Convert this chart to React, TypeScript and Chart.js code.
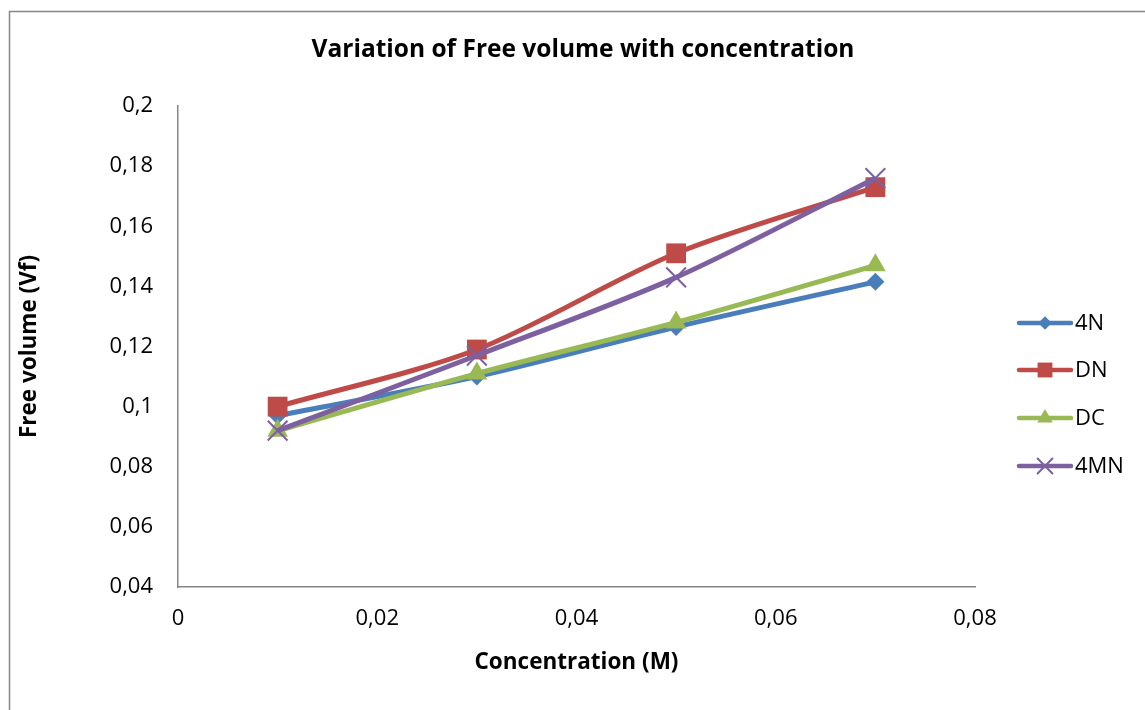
import React, { useEffect, useRef } from "react";
import { Chart, registerables } from "chart.js";

Chart.register(...registerables);

const xValues = [0.01, 0.03, 0.05, 0.07];
const seriesNames = ["4N", "DN", "DC", "4MN"];
const s4N = [0.097, 0.110, 0.1265, 0.1415];
const sDN = [0.100, 0.119, 0.151, 0.173];
const sDC = [0.092, 0.111, 0.128, 0.147];
const s4MN = [0.092, 0.117, 0.143, 0.176];
const seriesColors = ["#4A7EBB", "#BE4B48", "#98B954", "#7D60A0"];
const pointStyles = ["rectRot", "rect", "triangle", "crossRot"];
const pointRadii = [9, 14, 12, 14];
const chartTitle = "Variation of Free volume with concentration";
const FONT = "'Open Sans', 'Liberation Sans', sans-serif";

const fmt = (v: number) => {
  const r = Math.round(v * 100) / 100;
  return String(r).replace(".", ",");
};

function drawMarker(ctx: CanvasRenderingContext2D, style: string, x: number, y: number, r: number, color: string) {
  ctx.save();
  ctx.fillStyle = color;
  ctx.strokeStyle = color;
  ctx.beginPath();
  if (style === "rectRot") {
    ctx.moveTo(x, y - r);
    ctx.lineTo(x + r, y);
    ctx.lineTo(x, y + r);
    ctx.lineTo(x - r, y);
    ctx.closePath();
    ctx.fill();
  } else if (style === "rect") {
    const s = Math.SQRT1_2 * r;
    ctx.rect(x - s, y - s, 2 * s, 2 * s);
    ctx.fill();
  } else if (style === "triangle") {
    ctx.moveTo(x, y - r);
    ctx.lineTo(x + r * 0.866, y + r * 0.5);
    ctx.lineTo(x - r * 0.866, y + r * 0.5);
    ctx.closePath();
    ctx.fill();
  } else {
    const o = Math.SQRT1_2 * r;
    ctx.lineWidth = 2;
    ctx.moveTo(x - o, y - o);
    ctx.lineTo(x + o, y + o);
    ctx.moveTo(x + o, y - o);
    ctx.lineTo(x - o, y + o);
    ctx.stroke();
  }
  ctx.restore();
}

const framePlugin = {
  id: "frameAndLegend",
  afterDraw(chart: any) {
    const ctx: CanvasRenderingContext2D = chart.ctx;
    ctx.save();
    ctx.strokeStyle = "#868686";
    ctx.lineWidth = 1.5;
    ctx.beginPath();
    ctx.moveTo(9.5, 800);
    ctx.lineTo(9.5, 11.5);
    ctx.lineTo(1200, 11.5);
    ctx.stroke();
    // title
    ctx.fillStyle = "#000";
    ctx.font = `bold 24.5px ${FONT}`;
    ctx.textAlign = "center";
    ctx.textBaseline = "middle";
    ctx.fillText(chartTitle, 583, 50);
    // legend
    const legendY = [323, 370, 418, 466];
    seriesNames.forEach((name, i) => {
      const y = legendY[i];
      ctx.strokeStyle = seriesColors[i];
      ctx.lineWidth = 4.5;
      ctx.lineCap = "round";
      ctx.beginPath();
      ctx.moveTo(1019, y);
      ctx.lineTo(1071, y);
      ctx.stroke();
      drawMarker(ctx, pointStyles[i], 1045, y, pointRadii[i] * 0.75, seriesColors[i]);
      ctx.fillStyle = "#000";
      ctx.font = `22px ${FONT}`;
      ctx.textBaseline = "middle";
      ctx.textAlign = "left";
      ctx.fillText(name, 1075, y + 1);
    });
    ctx.restore();
  },
};

export default function App() {
  const ref = useRef<HTMLCanvasElement>(null);
  useEffect(() => {
    if (!ref.current) return;
    const all = [s4N, sDN, sDC, s4MN];
    const chart = new Chart(ref.current, {
      type: "line",
      data: {
        datasets: all.map((vals, i) => ({
          label: seriesNames[i],
          data: xValues.map((x, j) => ({ x, y: vals[j] })),
          borderColor: seriesColors[i],
          backgroundColor: seriesColors[i],
          borderWidth: 5,
          pointStyle: pointStyles[i] as any,
          pointRadius: pointRadii[i],
          pointBorderWidth: i === 3 ? 2 : 0,
          pointBorderColor: seriesColors[i],
          pointBackgroundColor: seriesColors[i],
          tension: 0.3,
          order: 4 - i,
        })),
      },
      options: {
        animation: false,
        responsive: false,
        layout: { padding: { left: 0, right: 170, top: 106, bottom: 0 } },
        plugins: {
          legend: { display: false },
          tooltip: { enabled: false },
          title: { display: false },
        },
        scales: {
          x: {
            type: "linear",
            min: 0,
            max: 0.08,
            ticks: { stepSize: 0.02, callback: (v: any) => fmt(Number(v)), color: "#000", font: { family: FONT, size: 22 }, padding: 19, maxRotation: 0 },
            grid: { display: false, drawTicks: false },
            border: { display: true, color: "#868686", width: 1.5 },
            title: { display: true, text: "Concentration (M)", color: "#000", font: { family: FONT, size: 22.5, weight: "bold" }, padding: { top: 0, bottom: 34 } },
            afterFit: (s: any) => { s.height = 123; },
          },
          y: {
            type: "linear",
            min: 0.04,
            max: 0.2,
            ticks: { stepSize: 0.02, callback: (v: any) => fmt(Number(v)), color: "#000", font: { family: FONT, size: 22 }, padding: 25 },
            grid: { display: false, drawTicks: false },
            border: { display: true, color: "#868686", width: 1.5 },
            title: { display: true, text: "Free volume (Vf)", color: "#000", font: { family: FONT, size: 22.5, weight: "bold" }, padding: { top: 16, bottom: 0 } },
            afterFit: (s: any) => { s.width = 178; },
          },
        },
      },
      plugins: [framePlugin],
    });
    return () => chart.destroy();
  }, []);
  return (
    <div style={{ position: "fixed", left: 0, top: 0, width: 1145, height: 710, background: "#fff" }}>
      <canvas ref={ref} width={1145} height={710} style={{ display: "block" }} />
    </div>
  );
}
